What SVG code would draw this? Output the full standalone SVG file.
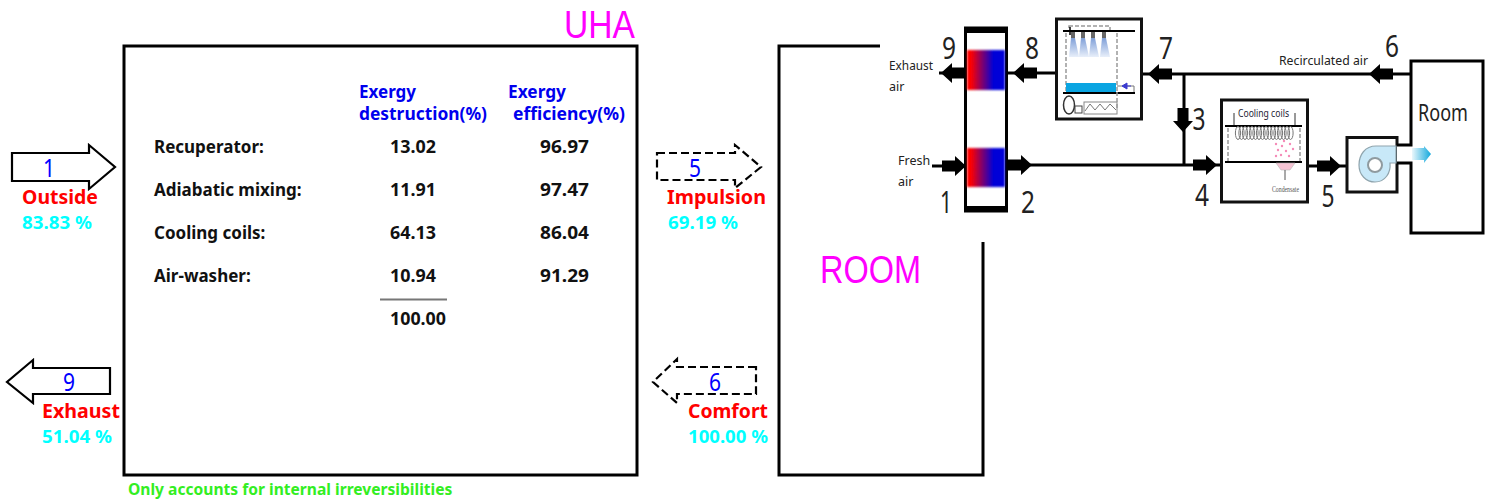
<svg xmlns="http://www.w3.org/2000/svg" width="1491" height="503" viewBox="0 0 1491 503">
<style>
text{font-family:"Noto Sans","DejaVu Sans",sans-serif}
.t{font-weight:700;font-size:17px;fill:#111}
.h{font-weight:700;font-size:17px;fill:#0000ee}
.r{font-weight:700;font-size:19.500px;fill:#ff0000}
.c{font-weight:700;font-size:18px;fill:#00ffff}
.n{font-size:25px;fill:#0000ff;text-anchor:middle}
.m{font-size:38px;fill:#ff00ff;font-family:"Liberation Sans",sans-serif}
.d{font-size:31px;fill:#222;text-anchor:middle}
.s{font-size:12.500px;fill:#222}
.box{fill:none;stroke:#000;stroke-width:3}
.eq{fill:#fff;stroke:#111;stroke-width:3}
.line{fill:none;stroke:#000;stroke-width:3}
.flow{fill:#fff;stroke:#000;stroke-width:2.200}
.dash{fill:#fff;stroke:#000;stroke-width:2.200;stroke-dasharray:8 4}
.gd{fill:none;stroke:#999;stroke-width:1.500;stroke-dasharray:4 2}
.thin{fill:none;stroke:#777;stroke-width:1}
</style>
<defs>
<linearGradient id="rb"><stop offset=".1" stop-color="#ff0000"/><stop offset=".7" stop-color="#0000d8"/></linearGradient>
<linearGradient id="sp" x1="0" y1="0" x2="0" y2="1"><stop offset="0" stop-color="#7f9fd8"/><stop offset="1" stop-color="#e8effa"/></linearGradient>
<linearGradient id="cy"><stop offset="0" stop-color="#eaf7fc"/><stop offset="1" stop-color="#12a8dc"/></linearGradient>
<filter id="bl" x="-5%" y="-10%" width="110%" height="120%"><feGaussianBlur stdDeviation="0.900"/></filter>
<polygon id="ba" points="0,-5.500 13,-5.500 13,-10 24,0 13,10 13,5.500 0,5.500" fill="#000"/>
<ellipse id="lp" cx="0" cy="133" rx="2.600" ry="6.500" fill="none" stroke="#777" stroke-width="1"/>
</defs>

<g id="uha">
<rect class="box" x="124" y="46" width="513" height="429"/>
<text class="m" x="564" y="38" textLength="71" lengthAdjust="spacingAndGlyphs">UHA</text>
</g>

<g id="room-outline">
<path class="box" d="M880,46H779V475H983V242"/>
<text class="m" x="820" y="283" textLength="101" lengthAdjust="spacingAndGlyphs">ROOM</text>
</g>

<g id="table">
<text class="h" x="359" y="98" textLength="57" lengthAdjust="spacingAndGlyphs">Exergy</text>
<text class="h" x="359" y="120" textLength="128" lengthAdjust="spacingAndGlyphs">destruction(%)</text>
<text class="h" x="508" y="98" textLength="58" lengthAdjust="spacingAndGlyphs">Exergy</text>
<text class="h" x="513" y="120" textLength="112" lengthAdjust="spacingAndGlyphs">efficiency(%)</text>
<text class="t" x="154" y="153">Recuperator:</text><text class="t" x="390" y="153" textLength="46" lengthAdjust="spacingAndGlyphs">13.02</text><text class="t" x="540" y="153" textLength="49" lengthAdjust="spacingAndGlyphs">96.97</text>
<text class="t" x="154" y="196">Adiabatic mixing:</text><text class="t" x="390" y="196" textLength="46" lengthAdjust="spacingAndGlyphs">11.91</text><text class="t" x="540" y="196" textLength="49" lengthAdjust="spacingAndGlyphs">97.47</text>
<text class="t" x="154" y="239">Cooling coils:</text><text class="t" x="390" y="239" textLength="46" lengthAdjust="spacingAndGlyphs">64.13</text><text class="t" x="540" y="239" textLength="49" lengthAdjust="spacingAndGlyphs">86.04</text>
<text class="t" x="154" y="282">Air-washer:</text><text class="t" x="390" y="282" textLength="46" lengthAdjust="spacingAndGlyphs">10.94</text><text class="t" x="540" y="282" textLength="49" lengthAdjust="spacingAndGlyphs">91.29</text>
<path d="M380,299.500H447" stroke="#777" stroke-width="2" fill="none"/>
<text class="t" x="390" y="325" textLength="56" lengthAdjust="spacingAndGlyphs">100.00</text>
</g>
<text id="note" x="128" y="495" font-weight="700" font-size="15.600px" fill="#33ee22">Only accounts for internal irreversibilities</text>

<g id="flow-outside">
<polygon class="flow" points="12,153 89,153 89,145 115,167 89,189 89,181 12,181"/>
<text class="n" x="49" y="177" textLength="12" lengthAdjust="spacingAndGlyphs">1</text>
<text class="r" x="22" y="204" textLength="76" lengthAdjust="spacingAndGlyphs">Outside</text>
<text class="c" x="22" y="229" textLength="70" lengthAdjust="spacingAndGlyphs">83.83 %</text>
</g>
<g id="flow-exhaust">
<polygon class="flow" points="110,368 33,368 33,360 7,382 33,403 33,394 110,394"/>
<text class="n" x="69" y="391" textLength="12" lengthAdjust="spacingAndGlyphs">9</text>
<text class="r" x="42" y="418" textLength="78" lengthAdjust="spacingAndGlyphs">Exhaust</text>
<text class="c" x="42" y="443" textLength="70" lengthAdjust="spacingAndGlyphs">51.04 %</text>
</g>
<g id="flow-impulsion">
<polygon class="dash" points="657,153 735,153 735,145 761,167 735,188 735,180 657,180"/>
<text class="n" x="695" y="177" textLength="12" lengthAdjust="spacingAndGlyphs">5</text>
<text class="r" x="667" y="204" textLength="99" lengthAdjust="spacingAndGlyphs">Impulsion</text>
<text class="c" x="668" y="229" textLength="70" lengthAdjust="spacingAndGlyphs">69.19 %</text>
</g>
<g id="flow-comfort">
<polygon class="dash" points="756,367 677,367 677,359 653,382 677,403 677,394 756,394"/>
<text class="n" x="715" y="391" textLength="12" lengthAdjust="spacingAndGlyphs">6</text>
<text class="r" x="688" y="418" textLength="80" lengthAdjust="spacingAndGlyphs">Comfort</text>
<text class="c" x="688" y="443" textLength="80" lengthAdjust="spacingAndGlyphs">100.00 %</text>
</g>

<g id="connectors">
<path class="line" d="M939,73H966M1005,73H1056M1142,74H1411M1184,74V165M932,166H966M1005,165H1221M1308,166H1347"/>
<use href="#ba" transform="translate(965,73) rotate(180)"/>
<use href="#ba" transform="translate(1037,73) rotate(180)"/>
<use href="#ba" transform="translate(1172,74) rotate(180)"/>
<use href="#ba" transform="translate(1393,74) rotate(180)"/>
<use href="#ba" transform="translate(942,166)"/>
<use href="#ba" transform="translate(1008,165)"/>
<use href="#ba" transform="translate(1193,165)"/>
<use href="#ba" transform="translate(1317,166)"/>
<use href="#ba" transform="translate(1183,108) rotate(90)"/>
</g>

<g id="recuperator">
<rect x="965.500" y="28" width="41" height="183" fill="#fff" stroke="#000" stroke-width="3"/>
<rect x="965" y="27" width="42" height="6" fill="#000"/>
<rect x="965" y="206" width="42" height="6" fill="#000"/>
<rect x="967" y="50" width="38" height="40" fill="url(#rb)" filter="url(#bl)"/>
<rect x="967" y="148" width="38" height="39" fill="url(#rb)" filter="url(#bl)"/>
</g>

<g id="air-washer">
<rect class="eq" x="1056.500" y="19" width="85" height="100"/>
<rect class="gd" x="1069" y="26" width="41" height="5"/>
<path class="gd" d="M1066,33V92M1117,33V92"/>
<path d="M1063,31H1135" stroke="#000" stroke-width="2"/>
<path d="M1070,27V35" stroke="#000" stroke-width="1.500"/>
<g fill="url(#sp)">
<polygon points="1071,38 1075,38 1079,57 1069,57"/>
<polygon points="1081,38 1085,38 1089,57 1079,57"/>
<polygon points="1091,38 1095,38 1099,57 1089,57"/>
<polygon points="1102,38 1106,38 1110,57 1100,57"/>
</g>
<g fill="#666"><rect x="1071" y="32" width="4" height="6"/><rect x="1081" y="32" width="4" height="6"/><rect x="1091" y="32" width="4" height="6"/><rect x="1102" y="32" width="4" height="6"/></g>
<rect x="1066" y="83" width="50" height="9" fill="#0aa5e2"/>
<path d="M1063,93H1135" stroke="#000" stroke-width="2"/>
<path class="thin" d="M1117,86H1134V92"/>
<path d="M1122,86L1127,83V89Z M1126,86H1131" fill="#3a3ad0" stroke="#3a3ad0"/>
<ellipse cx="1069" cy="105" rx="5.500" ry="9" fill="#fff" stroke="#333" stroke-width="1.500"/>
<rect x="1075" y="106" width="7" height="7" fill="#fff" stroke="#444"/>
<rect x="1084" y="102" width="33" height="12" fill="#fff" stroke="#888"/>
<path class="thin" d="M1085,111L1090,104L1095,110L1100,104L1105,110L1110,104L1116,110"/>
<path class="gd" d="M1117,92V108"/>
</g>

<g id="cooling-coils">
<rect class="eq" x="1221.500" y="100" width="86" height="102"/>
<text x="1238" y="117" font-size="10.500px" fill="#223" textLength="51" lengthAdjust="spacingAndGlyphs">Cooling coils</text>
<path d="M1234,113V125M1295,113V125" stroke="#333" stroke-width="1"/>
<path d="M1225,126H1302M1225,162H1302" stroke="#000" stroke-width="2"/>
<path class="gd" d="M1228,128V161M1300,128V161" stroke-width="1"/>
<g>
<use href="#lp" x="1238"/><use href="#lp" x="1241.500"/><use href="#lp" x="1245"/><use href="#lp" x="1248.500"/><use href="#lp" x="1252"/><use href="#lp" x="1255.500"/><use href="#lp" x="1259"/><use href="#lp" x="1262.500"/><use href="#lp" x="1266"/><use href="#lp" x="1269.500"/><use href="#lp" x="1273"/><use href="#lp" x="1276.500"/><use href="#lp" x="1280"/><use href="#lp" x="1283.500"/><use href="#lp" x="1287"/><use href="#lp" x="1290.500"/>
</g>
<g fill="#f58bb8"><circle cx="1276" cy="144" r="1.200"/><circle cx="1282" cy="146" r="1.200"/><circle cx="1290" cy="144" r="1.200"/><circle cx="1278" cy="150" r="1.200"/><circle cx="1286" cy="151" r="1.200"/><circle cx="1293" cy="149" r="1.200"/><circle cx="1281" cy="155" r="1.200"/><circle cx="1289" cy="156" r="1.200"/><circle cx="1276" cy="156" r="1.200"/><circle cx="1284" cy="141" r="1.200"/></g>
<polygon points="1276,163 1295,163 1290,170 1281,170" fill="#f6c4d4" stroke="#bbb" stroke-width=".6"/>
<path d="M1285,170V180" stroke="#555"/>
<text x="1272" y="192" font-size="7.500px" fill="#555" textLength="27" lengthAdjust="spacingAndGlyphs" style="font-family:'Liberation Serif',serif">Condensate</text>
</g>

<g id="fan">
<rect class="eq" x="1347" y="137.500" width="50" height="54.500"/>
<path d="M1396,146H1376C1365,146 1359,155 1359,165C1359,175 1366,182 1375,182C1385,182 1391,173 1390,163H1396Z" fill="#c8e8f8" stroke="#8fa4ad" stroke-width="1.200"/>
<circle cx="1375" cy="165" r="7" fill="#fff" stroke="#8f9a9f" stroke-width="2"/>
</g>

<g id="room">
<path d="M1397,145H1411V61H1483V233H1411V163H1397" fill="#fff" stroke="#000" stroke-width="3"/>
<text x="1418" y="121" font-size="24px" fill="#222" textLength="50" lengthAdjust="spacingAndGlyphs">Room</text>
<polygon points="1412,148 1424,148 1424,146 1431,154 1424,163 1424,160 1412,160" fill="url(#cy)"/>
</g>

<g id="labels">
<text class="s" x="889" y="70" textLength="44" lengthAdjust="spacingAndGlyphs">Exhaust</text><text class="s" x="889" y="91">air</text>
<text class="s" x="898" y="165">Fresh</text><text class="s" x="898" y="186">air</text>
<text class="s" x="1279" y="65" textLength="89" lengthAdjust="spacingAndGlyphs">Recirculated air</text>
<text class="d" x="949" y="59" textLength="14" lengthAdjust="spacingAndGlyphs">9</text><text class="d" x="1032" y="59" textLength="14" lengthAdjust="spacingAndGlyphs">8</text><text class="d" x="1166" y="59" textLength="14" lengthAdjust="spacingAndGlyphs">7</text>
<text class="d" x="946" y="213" textLength="12" lengthAdjust="spacingAndGlyphs">1</text><text class="d" x="1028" y="213" textLength="14" lengthAdjust="spacingAndGlyphs">2</text>
<text class="d" x="1392" y="57" textLength="14" lengthAdjust="spacingAndGlyphs">6</text><text class="d" x="1199" y="130" textLength="13" lengthAdjust="spacingAndGlyphs">3</text>
<text class="d" x="1202" y="206" textLength="14" lengthAdjust="spacingAndGlyphs">4</text><text class="d" x="1328" y="207" textLength="13" lengthAdjust="spacingAndGlyphs">5</text>
</g>
</svg>
